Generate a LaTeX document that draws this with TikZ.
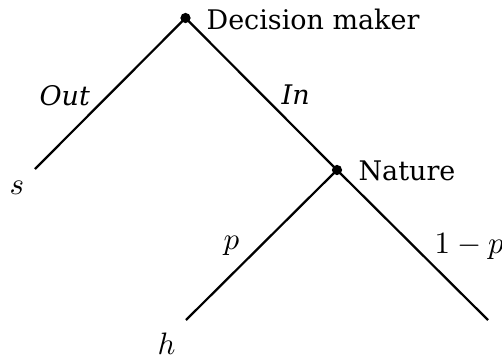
\documentclass[tikz,border=0pt]{standalone}
\usepackage[no-math]{fontspec}
\setmainfont{DejaVu Serif}
\begin{document}
\begin{tikzpicture}[x=0.3226pt,y=-0.3226pt,
  branch/.style={line width=0.72pt},
  dotnode/.style={circle,fill=black,inner sep=0pt,minimum size=3.3pt},
  txt/.style={inner sep=0pt,anchor=base west,font=\fontsize{8.7}{10}\selectfont},
  mth/.style={inner sep=0pt,anchor=base west}]
\useasboundingbox (0,0) rectangle (502,358);
% decision points
\node[dotnode] (dm) at (185.5,18) {};
\node[dotnode] (nat) at (337,170) {};
% leaf ends
\coordinate (sEnd) at (35,169);
\coordinate (hEnd) at (186,320);
\coordinate (lEnd) at (488,320);
% branches
\draw[branch] (dm.center) -- (sEnd);
\draw[branch] (dm.center) -- (nat.center);
\draw[branch] (nat.center) -- (hEnd);
\draw[branch] (nat.center) -- (lEnd);
% labels
\node[txt] (dmlab) at (206,29.5) {Decision maker};
\node[txt] (natlab) at (358,180.7) {Nature};
\node[txt] (outlab) at (39,105) {\itshape Out};
\node[txt] (inlab) at (281,104) {\itshape In};
\node[mth] (slab) at (9,194) {$s$};
\node[mth] (hlab) at (157,354) {$h$};
\node[mth] (plab) at (223,249) {$p$};
\node[mth] (qlab) at (434,253) {$1-p$};
\end{tikzpicture}
\end{document}
